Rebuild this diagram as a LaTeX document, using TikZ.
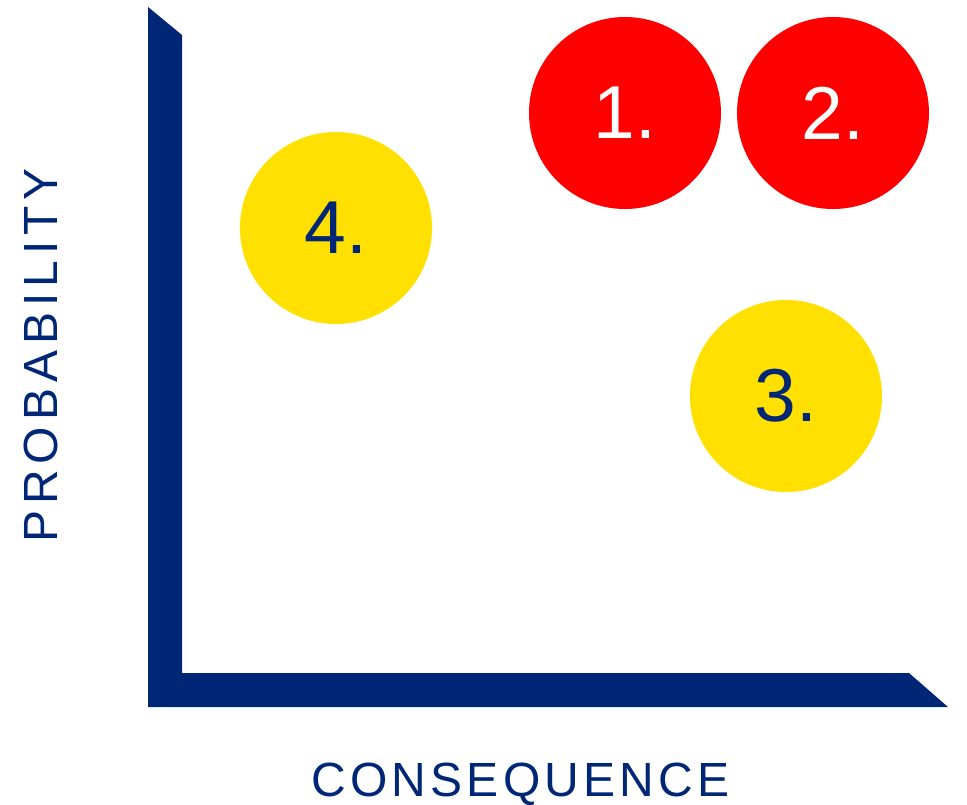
\documentclass[tikz,border=0pt]{standalone}
\usepackage{fontspec}
\setmainfont{Liberation Sans}
\usepackage{xcolor}
\usepackage{tikz}
\definecolor{navy}{HTML}{002776}
\definecolor{rosso}{HTML}{FF0000}
\definecolor{giallo}{HTML}{FFE000}
\newfontfamily\xfont[LetterSpace=8.8]{Liberation Sans}
\newfontfamily\yfont[LetterSpace=12.5]{Liberation Sans}

\begin{document}
\begin{tikzpicture}[x=1pt, y=-1pt,
    risk/.style={circle, minimum size=192pt, inner sep=0pt, font=\fontsize{75}{75}\selectfont},
    axislabel/.style={inner sep=0pt, text=navy}]
        \useasboundingbox (0,0) rectangle (967,805);
        \coordinate (Top) at (148,7);
        \coordinate (TopIn) at (182,35);
        \coordinate (Corner) at (182,673);
        \coordinate (EndIn) at (909,673);
        \coordinate (End) at (948,707);
        \coordinate (Origin) at (148,707);
        % assi
        \fill[navy] (Top) -- (TopIn) -- (Corner) -- (EndIn) -- (End) -- (Origin) -- cycle;
        % rischi
        \node[risk, fill=rosso, text=white] (r1) at (625,113) {1.};
        \node[risk, fill=rosso, text=white] (r2) at (833,113) {2.};
        \node[risk, fill=giallo, text=navy] (r3) at (786,396) {3.};
        \node[risk, fill=giallo, text=navy] (r4) at (336,228) {4.};
        % etichette
        \node[axislabel, anchor=base west, font=\fontsize{48}{48}\xfont] (cons) at (311,796) {CONSEQUENCE};
        \node[axislabel, anchor=base west, rotate=90, font=\fontsize{48}{48}\yfont] (prob) at (57,543) {PROBABILITY};
    \end{tikzpicture}
\end{document}
